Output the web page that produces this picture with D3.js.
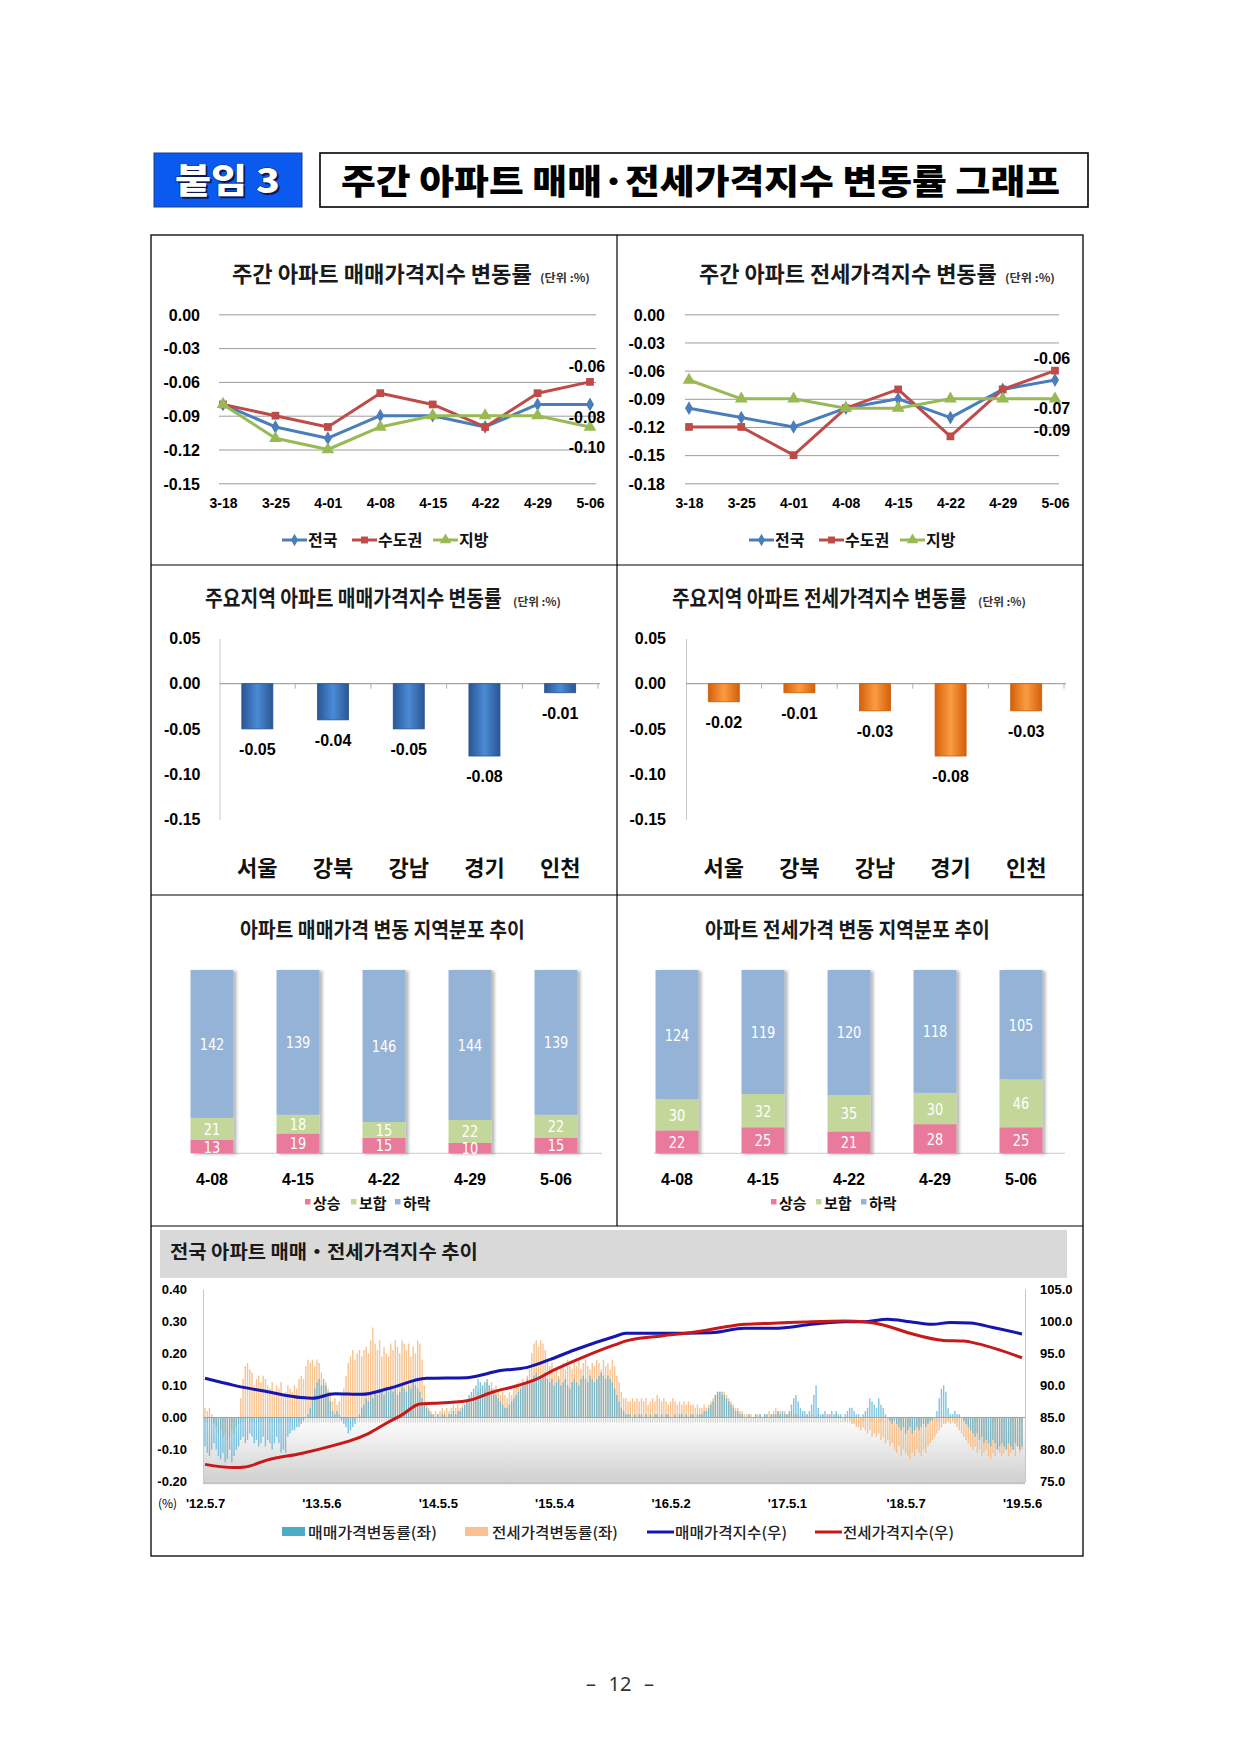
<!DOCTYPE html>
<html><head><meta charset="utf-8">
<script src="https://cdn.jsdelivr.net/npm/d3@7"></script>
<style>
body{margin:0;background:#fff;}
svg{display:block;}
text{font-family:"Noto Sans CJK KR","Noto Sans",sans-serif;}
.num{font-family:"Liberation Sans",Arial,sans-serif;font-weight:bold;}
.narrow{font-family:"Liberation Sans Narrow","DejaVu Sans Condensed",sans-serif;}
</style></head><body>
<svg id="page" width="1239" height="1752"></svg>
<script>
// ---------- DATA ----------
const weeks = ["3-18","3-25","4-01","4-08","4-15","4-22","4-29","5-06"];
const seriesNames = ["전국","수도권","지방"];
const saleNational = [-0.08,-0.10,-0.11,-0.09,-0.09,-0.10,-0.08,-0.08];
const saleCapital  = [-0.08,-0.09,-0.10,-0.07,-0.08,-0.10,-0.07,-0.06];
const saleProvince = [-0.08,-0.11,-0.12,-0.10,-0.09,-0.09,-0.09,-0.10];
const jeonseNational = [-0.10,-0.11,-0.12,-0.10,-0.09,-0.11,-0.08,-0.07];
const jeonseCapital  = [-0.12,-0.12,-0.15,-0.10,-0.08,-0.13,-0.08,-0.06];
const jeonseProvince = [-0.07,-0.09,-0.09,-0.10,-0.10,-0.09,-0.09,-0.09];
const saleTicks = [0,-0.03,-0.06,-0.09,-0.12,-0.15];
const jeonseTicks = [0,-0.03,-0.06,-0.09,-0.12,-0.15,-0.18];

const regions = ["서울","강북","강남","경기","인천"];
const regionSale = [-0.05,-0.04,-0.05,-0.08,-0.01];
const regionJeonse = [-0.02,-0.01,-0.03,-0.08,-0.03];
const regionTicks = [0.05,0,-0.05,-0.10,-0.15];

const distWeeks = ["4-08","4-15","4-22","4-29","5-06"];
const distNames = ["상승","보합","하락"];
const saleUp   = [13,19,15,10,15];
const saleFlat = [21,18,15,22,22];
const saleDown = [142,139,146,144,139];
const jeonseUp   = [22,25,21,28,25];
const jeonseFlat = [30,32,35,30,46];
const jeonseDown = [124,119,120,118,105];

// weekly series from 2012-05-07 (week 0) to 2019-05-06 (week 365)
const trendTickWeeks = [0,52,104,156,208,260,313,365];
const trendTickLabels = ["'12.5.7","'13.5.6","'14.5.5","'15.5.4","'16.5.2","'17.5.1","'18.5.7","'19.5.6"];
const leftTicks = [0.4,0.3,0.2,0.1,0,-0.1,-0.2];
const rightTicks = [105,100,95,90,85,80,75];
const saleChg = [
-.09,-.11,-.12,-.10,-.08,-.10,-.12,-.13,-.11,-.14,
-.13,-.10,-.14,-.12,-.10,-.09,-.07,-.06,-.08,-.07,
-.05,-.06,-.08,-.07,-.09,-.08,-.06,-.09,-.07,-.08,
-.10,-.08,-.06,-.08,-.11,-.10,-.11,-.06,-.05,-.04,
-.04,-.03,-.03,-.02,-.01,0,.01,.03,.06,.09,
.11,.12,.10,.12,.10,.08,.05,.02,.01,.02,
.01,-.01,-.02,-.03,-.05,-.04,-.03,-.02,0,.01,
.03,.04,.06,.05,.07,.06,.08,.07,.09,.08,
.07,.09,.08,.10,.08,.09,.07,.08,.10,.09,
.08,.10,.09,.11,.10,.09,.08,.06,.04,.03,
.02,.01,.01,0,.01,0,.01,.01,0,.01,
.01,.02,.01,.02,.02,.03,.04,.05,.07,.08,
.09,.10,.12,.11,.10,.11,.12,.10,.09,.08,
.07,.06,.05,.04,.03,.03,.04,.05,.06,.07,
.08,.09,.10,.11,.12,.11,.12,.13,.14,.13,
.12,.13,.14,.12,.11,.12,.10,.11,.12,.10,
.11,.12,.10,.09,.11,.12,.11,.10,.12,.13,
.12,.11,.13,.12,.11,.12,.13,.14,.13,.12,
.13,.12,.11,.09,.07,.05,.03,.02,.01,.01,
.01,0,.01,0,.01,.01,0,.01,0,.01,
0,.01,.01,0,.01,0,.01,.01,0,0,
.01,0,.01,.01,0,.01,0,.01,.01,0,
.01,.01,.01,.02,.02,.03,.04,.05,.07,.08,
.08,.08,.07,.06,.05,.04,.03,.02,.02,.01,
.01,0,0,.01,0,0,.01,0,.01,0,
.01,.01,0,.01,.01,.01,.02,.01,.02,.01,
.01,.02,.04,.06,.07,.05,.03,.02,.02,.01,
.02,.04,.07,.10,.03,.01,.01,.02,.01,.01,
.02,.01,.02,.01,.01,0,.01,.02,.03,.03,
.02,.01,.01,0,.01,.02,.03,.06,.05,.04,
.03,.06,.04,.03,.01,0,-.01,-.02,-.01,-.02,
-.03,-.04,-.03,-.05,-.04,-.03,-.05,-.04,-.03,-.04,
-.03,-.02,-.03,-.02,-.01,-.01,0,.02,.06,.09,
.10,.08,.03,.01,.01,.02,.01,.01,0,-.01,
-.02,-.03,-.04,-.05,-.06,-.05,-.07,-.06,-.08,-.07,
-.08,-.09,-.07,-.08,-.10,-.09,-.08,-.09,-.10,-.08,
-.09,-.10,-.08,-.09,-.10,-.09];
const jeonseChg = [
.03,.02,.03,.01,-.02,-.03,-.05,-.04,-.06,-.05,
-.07,-.06,-.04,-.05,-.03,-.02,.06,.12,.16,.17,
.15,.14,.10,.12,.13,.11,.13,.12,.10,.09,
.11,.08,.10,.09,.11,.07,.08,.10,.09,.08,
.10,.09,.12,.13,.12,.16,.18,.17,.18,.16,
.18,.17,.14,.10,.11,.09,.08,.05,.06,.04,
.05,.07,.09,.13,.17,.19,.21,.18,.20,.21,
.19,.21,.22,.20,.24,.28,.23,.21,.24,.19,
.22,.20,.19,.23,.21,.24,.22,.20,.24,.23,
.21,.23,.19,.22,.20,.24,.23,.18,.10,.04,
.03,.02,.01,.02,.01,.02,.03,.02,.03,.02,
.03,.04,.03,.04,.03,.04,.04,.05,.06,.05,
.07,.06,.08,.09,.10,.09,.11,.10,.11,.09,
.10,.08,.07,.08,.07,.06,.08,.07,.09,.10,
.11,.10,.12,.11,.13,.15,.20,.23,.24,.22,
.24,.23,.21,.18,.16,.17,.14,.15,.13,.16,
.17,.15,.18,.16,.15,.17,.16,.18,.15,.17,
.18,.16,.15,.17,.16,.18,.17,.15,.18,.16,
.17,.15,.18,.16,.13,.11,.08,.06,.06,.05,
.05,.06,.05,.06,.05,.06,.05,.06,.04,.05,
.06,.05,.07,.06,.05,.06,.05,.04,.05,.06,
.05,.04,.05,.04,.05,.04,.05,.04,.04,.03,
.04,.03,.03,.04,.03,.04,.05,.06,.07,.08,
.08,.07,.08,.07,.06,.05,.04,.03,.03,.02,
.02,.01,.01,.01,.01,0,.01,.01,.01,0,
.01,.01,.02,.01,.02,.03,.02,.02,.01,.02,
.01,.01,.02,.01,.01,.01,0,.01,0,.01,
0,.01,0,0,.01,0,.01,0,0,.01,
0,0,.01,0,0,0,-.01,0,-.01,-.02,
-.02,-.03,-.03,-.04,-.03,-.04,-.05,-.04,-.06,-.05,
-.06,-.05,-.07,-.06,-.08,-.07,-.09,-.08,-.10,-.11,
-.09,-.12,-.10,-.11,-.12,-.13,-.11,-.12,-.10,-.11,
-.12,-.10,-.11,-.09,-.08,-.07,-.06,-.05,-.04,-.03,
-.02,-.02,-.01,-.02,-.01,-.02,-.03,-.04,-.05,-.06,
-.07,-.08,-.09,-.10,-.09,-.11,-.10,-.12,-.11,-.10,
-.12,-.13,-.11,-.12,-.10,-.11,-.12,-.11,-.10,-.12,
-.11,-.10,-.12,-.09,-.11,-.10];
// index readings (right axis) at sampled weeks
const saleIdxWeeks = [0,13,28,43,48,58,70,82,99,117,132,144,154,165,183,188,204,226,241,256,271,286,294,305,315,325,333,342,352,365];
const saleIdx      = [91.1,90.0,89.0,88.1,88.0,88.7,88.6,89.5,91.1,91.2,92.3,92.8,94.0,95.5,97.6,98.1,98.1,98.2,98.9,98.9,99.5,99.9,99.9,100.3,99.9,99.5,99.8,99.7,99.0,98.0];
const jeonseIdxWeeks = [0,13,18,28,43,58,65,73,82,88,96,102,117,129,139,147,156,169,183,189,204,219,234,241,256,271,286,294,303,315,330,339,345,365];
const jeonseIdx      = [77.7,77.2,77.3,78.4,79.4,80.7,81.4,82.5,84.3,85.4,87.1,87.2,87.6,89.0,89.9,90.8,92.4,94.4,96.3,97.0,97.7,98.3,99.2,99.5,99.7,99.9,100.0,99.9,99.4,98.1,97.0,96.9,96.5,94.3];

// ---------- DRAWING ----------
const svg = d3.select("#page");
const defs = svg.append("defs");
const fmt2 = v => (Math.abs(v) < 1e-9 ? 0 : v).toFixed(2);

function hGrad(id, edge, mid) {
  const g = defs.append("linearGradient").attr("id", id).attr("x1",0).attr("x2",1).attr("y1",0).attr("y2",0);
  [[0,edge],[0.5,mid],[1,edge]].forEach(([o,c]) => g.append("stop").attr("offset",o).attr("stop-color",c));
}
hGrad("gBlue","#2a5693","#4b8bd6");
hGrad("gOrange","#d4600a","#fb9c42");
const vg = defs.append("linearGradient").attr("id","gFloor").attr("x1",0).attr("x2",0).attr("y1",0).attr("y2",1);
vg.append("stop").attr("offset",0).attr("stop-color","#ffffff");
vg.append("stop").attr("offset",1).attr("stop-color","#d0d0d0");
const flt = defs.append("filter").attr("id","shadow").attr("x","-20%").attr("y","-5%").attr("width","150%").attr("height","115%");
flt.append("feDropShadow").attr("dx",3).attr("dy",1).attr("stdDeviation",1.4).attr("flood-color","#000").attr("flood-opacity",0.28);

// o.fit: squeeze/stretch text horizontally to the given width via transform
function txt(g, x, y, s, o = {}) {
  const t = g.append("text").attr("x", x).attr("y", y).text(s)
    .attr("font-size", o.size || 14).attr("fill", o.fill || "#000")
    .attr("text-anchor", o.anchor || "start");
  if (o.weight) t.attr("font-weight", o.weight);
  if (o.cls) t.attr("class", o.cls);
  if (o.len) t.attr("textLength", o.len).attr("lengthAdjust", "spacingAndGlyphs");
  if (o.fit) {
    const w = t.node().getComputedTextLength();
    t.attr("x", 0).attr("y", 0).attr("transform", `translate(${x},${y}) scale(${o.fit / w},1)`);
  }
  return t;
}

// ---- header ----
svg.append("rect").attr("x",154).attr("y",153).attr("width",148).attr("height",54)
  .attr("fill","#0a5af0").attr("stroke","#1d3c8c").attr("stroke-width",1);
txt(svg, 177, 195, "붙임 3", {size:34, weight:900, fill:"#0b1a55", fit:105});
txt(svg, 175, 193, "붙임 3", {size:34, weight:900, fill:"#ffffff", fit:105})
  .attr("stroke","#0b1a55").attr("stroke-width",0.8).attr("paint-order","stroke");
svg.append("rect").attr("x",320).attr("y",153).attr("width",768).attr("height",54)
  .attr("fill","none").attr("stroke","#000").attr("stroke-width",1.6);
txt(svg, 341, 194, "주간 아파트 매매·전세가격지수 변동률 그래프", {size:34, weight:900, len:719});

// ---- frame ----
svg.append("rect").attr("x",151).attr("y",235).attr("width",932).attr("height",1321)
  .attr("fill","none").attr("stroke","#000").attr("stroke-width",1.3);
[[617,235,617,1226],[151,565,1083,565],[151,895,1083,895],[151,1226,1083,1226]].forEach(l =>
  svg.append("line").attr("x1",l[0]).attr("y1",l[1]).attr("x2",l[2]).attr("y2",l[3]).attr("stroke","#000").attr("stroke-width",1.2));

// ---- weekly line charts ----
const lineColors = ["#4a7ebb","#be4b48","#98b954"];
const lineSyms = [[d3.symbolDiamond,55],[d3.symbolSquare,60],[d3.symbolTriangle,70]];
function lineChart(cfg) {
  const g = svg.append("g");
  txt(g, cfg.titleX, 282, cfg.title, {size:22, weight:700, fill:"#1a1a1a", fit:cfg.titleLen});
  txt(g, cfg.titleX + cfg.titleLen + 8, 282, "(단위 :%)", {size:11, weight:700, fill:"#333", fit:50});
  const x = d3.scalePoint().domain(weeks).range([cfg.xFirst, cfg.xLast]);
  const y = d3.scaleLinear().domain([d3.min(cfg.ticks), 0]).range([483.3, 314.3]);
  const ay = g.append("g").attr("transform", `translate(${cfg.gridX0},0)`)
    .call(d3.axisLeft(y).tickValues(cfg.ticks).tickSize(-(cfg.gridX1 - cfg.gridX0))
      .tickPadding(cfg.gridX0 - cfg.labelRight).tickFormat(fmt2));
  ay.select(".domain").remove();
  ay.selectAll("line").attr("stroke","#9c9c9c").attr("stroke-width",1);
  ay.selectAll("text").attr("class","num").attr("font-size",16).attr("fill","#000").attr("dy","0.36em");
  const ax = g.append("g").attr("transform", "translate(0,498)")
    .call(d3.axisBottom(x).tickSize(0).tickPadding(0));
  ax.select(".domain").remove();
  ax.selectAll("text").attr("class","num").attr("font-size",14).attr("fill","#000");
  cfg.series.forEach((vals, k) => {
    g.append("path").datum(vals)
      .attr("d", d3.line().x((d,i) => x(weeks[i])).y(d => y(d)))
      .attr("fill","none").attr("stroke", lineColors[k]).attr("stroke-width",3).attr("stroke-linejoin","round");
    g.selectAll(null).data(vals).join("path")
      .attr("transform", (d,i) => `translate(${x(weeks[i])},${y(d)})`)
      .attr("d", d3.symbol(lineSyms[k][0], lineSyms[k][1])()).attr("fill", lineColors[k]);
  });
  cfg.series.forEach((vals, k) => {
    const last = vals[vals.length - 1];
    txt(g, cfg.xLast - 3, y(last) + cfg.labelDy[k] + 6, fmt2(last), {size:16, cls:"num", anchor:"middle"});
  });
  // legend
  cfg.legendX.forEach((lx, k) => {
    g.append("line").attr("x1", lx).attr("x2", lx + 25).attr("y1", 540).attr("y2", 540)
      .attr("stroke", lineColors[k]).attr("stroke-width", 3);
    g.append("path").attr("transform", `translate(${lx + 12.5},540)`)
      .attr("d", d3.symbol(lineSyms[k][0], lineSyms[k][1] * 0.8)()).attr("fill", lineColors[k]);
    txt(g, lx + 26, 546, seriesNames[k], {size:16, weight:700, fill:"#111"});
  });
}
lineChart({title:"주간 아파트 매매가격지수 변동률", titleX:232, titleLen:300,
  xFirst:223, xLast:590, gridX0:219, gridX1:596, labelRight:200, ticks:saleTicks,
  series:[saleNational, saleCapital, saleProvince], labelDy:[13,-16,20], legendX:[282,352,433]});
lineChart({title:"주간 아파트 전세가격지수 변동률", titleX:699, titleLen:298,
  xFirst:689, xLast:1055, gridX0:685, gridX1:1059, labelRight:665, ticks:jeonseTicks,
  series:[jeonseNational, jeonseCapital, jeonseProvince], labelDy:[28,-13,31], legendX:[749,819,900]});

// ---- regional bar charts ----
function regionChart(cfg) {
  const g = svg.append("g");
  txt(g, cfg.titleX, 606, cfg.title, {size:22, weight:700, fill:"#1a1a1a", fit:cfg.titleLen});
  txt(g, cfg.titleX + cfg.titleLen + 11, 606, "(단위 :%)", {size:11, weight:700, fill:"#333", fit:48});
  const x = d3.scaleBand().domain(regions).range(cfg.range);
  const y = d3.scaleLinear().domain([d3.min(regionTicks), d3.max(regionTicks)]).range([819.3, 638.5]);
  const ay = g.append("g").attr("transform", `translate(${cfg.range[0]},0)`)
    .call(d3.axisLeft(y).tickValues(regionTicks).tickSize(0).tickSizeOuter(0).tickPadding(cfg.pad).tickFormat(fmt2));
  ay.select(".domain").attr("stroke","#c8c8c8");
  ay.selectAll("text").attr("class","num").attr("font-size",16).attr("fill","#000");
  g.append("line").attr("x1", cfg.range[0]).attr("x2", cfg.range[1] + 2).attr("y1", y(0)).attr("y2", y(0))
    .attr("stroke","#a6a6a6").attr("stroke-width",1.2);
  g.selectAll(null).data(regions).join("line")
    .attr("x1", d => x(d) + x.bandwidth()).attr("x2", d => x(d) + x.bandwidth())
    .attr("y1", y(0)).attr("y2", y(0) + 5).attr("stroke","#b0b0b0");
  const bw = x.bandwidth() * 0.41;
  g.selectAll(null).data(cfg.vals).join("rect")
    .attr("x", (d,i) => x(regions[i]) + (x.bandwidth() - bw) / 2).attr("width", bw)
    .attr("y", d => Math.min(y(d), y(0))).attr("height", d => Math.abs(y(d) - y(0)))
    .attr("fill", cfg.fill).attr("stroke", cfg.stroke).attr("stroke-width", 0.8);
  g.selectAll(null).data(cfg.vals).join("text")
    .attr("x", (d,i) => x(regions[i]) + x.bandwidth() / 2).attr("y", d => y(d) + 26)
    .attr("text-anchor","middle").attr("class","num").attr("font-size",16).text(fmt2);
  regions.forEach(r => txt(g, x(r) + x.bandwidth() / 2, 876, r, {size:22, weight:700, anchor:"middle", fill:"#111"}));
}
regionChart({title:"주요지역 아파트 매매가격지수 변동률", titleX:205, titleLen:297, range:[219.5,598], pad:19,
  vals:regionSale, fill:"url(#gBlue)", stroke:"#2a5290"});
regionChart({title:"주요지역 아파트 전세가격지수 변동률", titleX:672, titleLen:295, range:[686,1064], pad:20,
  vals:regionJeonse, fill:"url(#gOrange)", stroke:"#c95d08"});

// ---- distribution stacked bars ----
const distColors = ["#ea7a9b","#c4d79b","#95b3d7"];
function distChart(cfg) {
  const g = svg.append("g");
  txt(g, cfg.titleX, 937, cfg.title, {size:21, weight:700, fill:"#1a1a1a", fit:285});
  const rows = distWeeks.map((w,i) => ({w, up:cfg.up[i], flat:cfg.flat[i], down:cfg.down[i]}));
  const keys = ["up","flat","down"];
  const stacked = d3.stack().keys(keys)(rows);
  const x = d3.scaleBand().domain(distWeeks).range(cfg.range).paddingInner(0.5).paddingOuter(0.25);
  const y = d3.scaleLinear().domain([0, d3.max(rows, r => r.up + r.flat + r.down)]).range([1153.3, 970]);
  g.append("line").attr("x1", cfg.base[0]).attr("x2", cfg.base[1]).attr("y1", y(0)).attr("y2", y(0))
    .attr("stroke","#d4d4d4").attr("stroke-width",1.2);
  const cols = g.selectAll(null).data(rows).join("g").attr("filter","url(#shadow)");
  cols.each(function(r, i) {
    stacked.forEach((layer, k) => {
      d3.select(this).append("rect").attr("x", x(r.w)).attr("width", x.bandwidth())
        .attr("y", y(layer[i][1])).attr("height", y(layer[i][0]) - y(layer[i][1]))
        .attr("fill", distColors[k]);
    });
  });
  stacked.forEach((layer, k) => {
    layer.forEach((seg, i) => {
      const cx = x(rows[i].w) + x.bandwidth() / 2, cy = (y(seg[0]) + y(seg[1])) / 2;
      g.append("text").attr("class","narrow").attr("font-size",16).attr("fill","#fff")
        .attr("text-anchor","middle").attr("transform", `translate(${cx},${cy + 6}) scale(0.9,1)`)
        .text(seg[1] - seg[0]);
    });
  });
  distWeeks.forEach(w => txt(g, x(w) + x.bandwidth() / 2, 1185, w, {size:16, cls:"num", anchor:"middle"}));
  cfg.legendX.forEach((lx, k) => {
    g.append("rect").attr("x", lx - 3).attr("y", 1199).attr("width", 5.5).attr("height", 5.5).attr("fill", distColors[k]);
    txt(g, lx + 5, 1209, distNames[k], {size:15, weight:700, fill:"#111"});
  });
}
distChart({title:"아파트 매매가격 변동 지역분포 추이", titleX:240, range:[169,599], base:[199,602],
  up:saleUp, flat:saleFlat, down:saleDown, legendX:[308,354,398]});
distChart({title:"아파트 전세가격 변동 지역분포 추이", titleX:705, range:[634,1064], base:[654,1065],
  up:jeonseUp, flat:jeonseFlat, down:jeonseDown, legendX:[774,819,864]});

// ---- long-term trend chart ----
(function() {
  const g = svg.append("g");
  g.append("rect").attr("x",160).attr("y",1230).attr("width",907).attr("height",48).attr("fill","#d9d9d9");
  txt(g, 170, 1259, "전국 아파트 매매・전세가격지수 추이", {size:19, weight:700, fill:"#1a1a1a", fit:308});
  const x0 = 203, x1 = 1025;
  const xW = d3.scaleLinear().domain([0, saleChg.length - 1]).range([205, 1022]);
  const yL = d3.scaleLinear().domain([d3.min(leftTicks), d3.max(leftTicks)]).range([1481.7, 1289]);
  const yR = d3.scaleLinear().domain([d3.min(rightTicks), d3.max(rightTicks)]).range([1481.7, 1289]);
  g.append("rect").attr("x", x0).attr("y", yL(0)).attr("width", x1 - x0).attr("height", 1481.7 - yL(0)).attr("fill","url(#gFloor)");
  g.append("rect").attr("x", x0).attr("y", 1481.7).attr("width", x1 - x0).attr("height", 2.5).attr("fill","#c4c4c4");
  // axes
  const al = g.append("g").attr("transform", `translate(${x0},0)`)
    .call(d3.axisLeft(yL).tickValues(leftTicks).tickSize(0).tickSizeOuter(0).tickPadding(16).tickFormat(fmt2));
  al.select(".domain").attr("stroke","#c8c8c8");
  al.selectAll("text").attr("class","num").attr("font-size",13).attr("fill","#000");
  const ar = g.append("g").attr("transform", `translate(${x1},0)`)
    .call(d3.axisRight(yR).tickValues(rightTicks).tickSize(0).tickSizeOuter(0).tickPadding(15).tickFormat(v => v.toFixed(1)));
  ar.select(".domain").attr("stroke","#c8c8c8");
  ar.selectAll("text").attr("class","num").attr("font-size",13).attr("fill","#000");
  const ab = g.append("g").attr("transform", "translate(0,1499)")
    .call(d3.axisBottom(xW).tickValues(trendTickWeeks).tickSize(0).tickPadding(0)
      .tickFormat((d,i) => trendTickLabels[i]));
  ab.select(".domain").remove();
  ab.selectAll("text").attr("class","num").attr("font-size",13).attr("fill","#000");
  txt(g, 158, 1508, "(%)", {size:12, fill:"#000"});
  // zero line and week ticks
  g.append("line").attr("x1", x0).attr("x2", x1).attr("y1", yL(0)).attr("y2", yL(0)).attr("stroke","#9a9a9a");
  g.selectAll(null).data(saleChg).join("line")
    .attr("x1", (d,i) => xW(i)).attr("x2", (d,i) => xW(i)).attr("y1", yL(0)).attr("y2", yL(0) + 5)
    .attr("stroke","#a8a8a8").attr("stroke-width",0.6);
  // bars
  const barW = 1.4;
  g.selectAll(null).data(jeonseChg).join("rect")
    .attr("x", (d,i) => xW(i) - barW / 2).attr("width", barW)
    .attr("y", d => Math.min(yL(d), yL(0))).attr("height", d => Math.abs(yL(d) - yL(0)))
    .attr("fill","#f6b87c").attr("opacity",0.85);
  g.selectAll(null).data(saleChg).join("rect")
    .attr("x", (d,i) => xW(i) - barW / 2).attr("width", barW)
    .attr("y", d => Math.min(yL(d), yL(0))).attr("height", d => Math.abs(yL(d) - yL(0)))
    .attr("fill","#56b2d8").attr("opacity",0.75);
  // index lines
  const line = d3.line().x(d => xW(d[0])).y(d => yR(d[1])).curve(d3.curveMonotoneX);
  g.append("path").datum(saleIdxWeeks.map((w,i) => [w, saleIdx[i]])).attr("d", line)
    .attr("fill","none").attr("stroke","#1515b0").attr("stroke-width",3);
  g.append("path").datum(jeonseIdxWeeks.map((w,i) => [w, jeonseIdx[i]])).attr("d", line)
    .attr("fill","none").attr("stroke","#c81818").attr("stroke-width",3);
  // legend
  g.append("rect").attr("x",282).attr("y",1527).attr("width",23).attr("height",9).attr("fill","#4bacc6");
  txt(g, 308, 1538, "매매가격변동률(좌)", {size:15, weight:500, fill:"#222", fit:129});
  g.append("rect").attr("x",465).attr("y",1527).attr("width",23).attr("height",9).attr("fill","#fac090");
  txt(g, 492, 1538, "전세가격변동률(좌)", {size:15, weight:500, fill:"#222", fit:126});
  g.append("line").attr("x1",647).attr("x2",674).attr("y1",1532).attr("y2",1532).attr("stroke","#1515b0").attr("stroke-width",3);
  txt(g, 675, 1538, "매매가격지수(우)", {size:15, weight:500, fill:"#222", fit:112});
  g.append("line").attr("x1",815).attr("x2",842).attr("y1",1532).attr("y2",1532).attr("stroke","#c81818").attr("stroke-width",3);
  txt(g, 843, 1538, "전세가격지수(우)", {size:15, weight:500, fill:"#222", fit:111});
})();

// ---- page number ----
[["–",591],["12",620],["–",649]].forEach(([s,x]) =>
  txt(svg, x, 1691, s, {size:20, anchor:"middle", fill:"#333"}).style("font-family","'Noto Sans',sans-serif"));
</script>
</body></html>
